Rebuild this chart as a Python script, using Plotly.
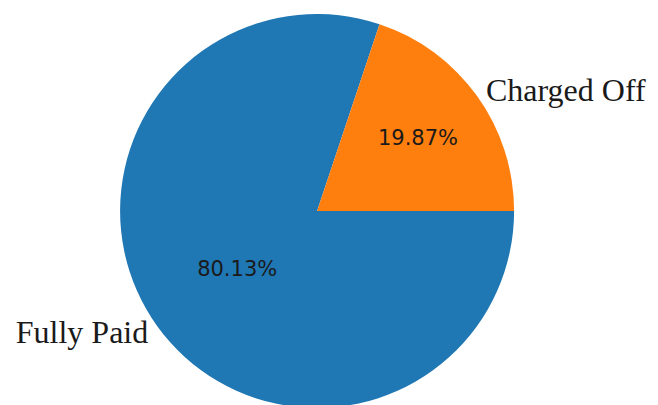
import plotly.graph_objects as go

labels = ["Fully Paid", "Charged Off"]
values = [80.13, 19.87]
colors = ["#1f77b4", "#ff7f0e"]

domain = dict(x=[0.164, 0.769], y=[0.0, 0.985])

fig = go.Figure()
fig.add_trace(go.Pie(
    labels=labels, values=values, sort=False, direction="clockwise",
    rotation=90, domain=domain,
    marker=dict(colors=colors, line=dict(width=0)),
    texttemplate="%{percent:.2%}", textposition="inside",
    insidetextorientation="horizontal",
    textfont=dict(family="DejaVu Sans", size=21, color="#1a1a1a"),
    showlegend=False, hoverinfo="skip",
))
fig.add_trace(go.Pie(
    labels=labels, values=values, sort=False, direction="clockwise",
    rotation=90, domain=domain,
    marker=dict(colors=["rgba(0,0,0,0)"] * 2, line=dict(width=0)),
    texttemplate="%{label}", textposition="outside",
    textfont=dict(family="Liberation Serif", size=32, color="#1a1a1a"),
    showlegend=False, hoverinfo="skip",
))
fig.update_layout(width=658, height=405, margin=dict(l=0, r=0, t=0, b=0),
                  paper_bgcolor="white", plot_bgcolor="white")
fig.write_html("out.html")
